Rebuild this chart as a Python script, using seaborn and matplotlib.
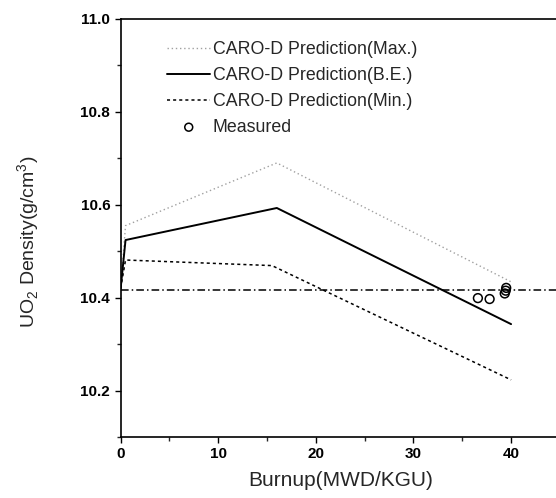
import matplotlib
matplotlib.use("Agg")
import matplotlib.pyplot as plt
import seaborn as sns
import pandas as pd
from matplotlib.ticker import MultipleLocator

sns.set_theme(style="ticks")
plt.rcParams['font.family'] = ['Liberation Sans', 'DejaVu Sans']
plt.rcParams['mathtext.fontset'] = 'custom'
plt.rcParams['mathtext.rm'] = 'Liberation Sans'

# Data
burnup_pred = [0.0, 0.5, 16.0, 40.0]
max_pred = [10.42, 10.555, 10.69, 10.434]
be_burnup = [0.0, 0.5, 16.0, 40.0]
be_pred = [10.42, 10.524, 10.593, 10.343]
min_burnup = [0.0, 0.5, 15.5, 40.0]
min_pred = [10.42, 10.481, 10.469, 10.223]
ref_x = [0.0, 45.0]
ref_y = [10.417, 10.417]
meas_x = [36.6, 37.8, 39.35, 39.45, 39.5]
meas_y = [10.399, 10.397, 10.409, 10.415, 10.421]

fig = plt.figure(figsize=(5.56, 4.98), dpi=100)
ax = fig.add_axes([0.217, 0.1225, 0.79, 0.8395])

sns.lineplot(x=burnup_pred, y=max_pred, ax=ax, color='#a0a0a0', linewidth=1.0,
             linestyle=(0, (1, 2)), label='CARO-D Prediction(Max.)')
sns.lineplot(x=be_burnup, y=be_pred, ax=ax, color='black', linewidth=1.4,
             linestyle='-', label='CARO-D Prediction(B.E.)')
sns.lineplot(x=min_burnup, y=min_pred, ax=ax, color='black', linewidth=1.1,
             linestyle=(0, (2, 2)), label='CARO-D Prediction(Min.)')
sns.lineplot(x=ref_x, y=ref_y, ax=ax, color='black', linewidth=1.1,
             linestyle=(0, (5, 2, 1, 2)), label='_nolegend_')
sns.scatterplot(x=meas_x, y=meas_y, ax=ax, marker='o', s=40,
                facecolors='none', edgecolor='black', linewidth=1.1,
                label='Measured')

ax.set_xlim(0, 45)
ax.set_ylim(10.1, 11.0)
ax.xaxis.set_major_locator(MultipleLocator(10))
ax.xaxis.set_minor_locator(MultipleLocator(5))
ax.yaxis.set_major_locator(MultipleLocator(0.2))
ax.yaxis.set_minor_locator(MultipleLocator(0.1))
ax.set_xticks([0, 10, 20, 30, 40])
ax.set_yticks([10.2, 10.4, 10.6, 10.8, 11.0])
ax.set_yticklabels(['10.2', '10.4', '10.6', '10.8', '11.0'])
ax.tick_params(axis='both', which='major', direction='out', length=4, width=1,
               labelsize=11, colors='black')
ax.tick_params(axis='both', which='minor', direction='out', length=3, width=1)
for lab in ax.get_xticklabels() + ax.get_yticklabels():
    lab.set_fontweight('bold')

ax.spines['right'].set_visible(False)
for s in ['left', 'bottom', 'top']:
    ax.spines[s].set_color('black')
    ax.spines[s].set_linewidth(1.2)

ax.set_xlabel('Burnup(MWD/KGU)', fontsize=15, labelpad=7)
ax.set_ylabel('UO$_2$ Density(g/cm$^3$)', fontsize=14)
ax.yaxis.set_label_coords(-0.18, 0.466)

leg = ax.legend(loc='upper left', bbox_to_anchor=(0.07, 0.985), frameon=False,
                fontsize=12.8, handlelength=2.4, handletextpad=0.15,
                labelspacing=0.5, markerscale=0.9)

fig.savefig('out.png', dpi=100)
